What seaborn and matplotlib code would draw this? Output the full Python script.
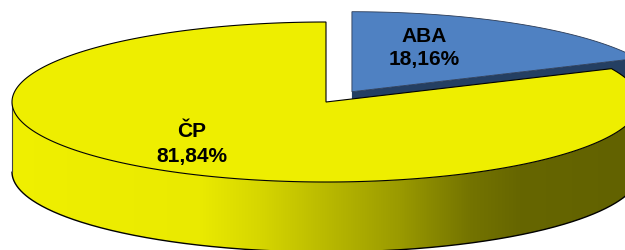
import numpy as np
import matplotlib
matplotlib.use("Agg")
import matplotlib.pyplot as plt
from matplotlib.patches import Polygon
import seaborn as sns

# ---- data ----
categories = ["ABA", "ČP"]
values = [18.16, 81.84]
value_labels = ["18,16%", "81,84%"]
explode = [48, 0]
top_colors = ["#4F81C2", "#EEEE00"]
cut_colors = ["#243F62", "#8C8C00"]

sns.set_theme(style="white")
plt.rcParams["font.family"] = ["Liberation Sans", "DejaVu Sans"]

W, H = 625, 251
fig = plt.figure(figsize=(W / 100, H / 100), dpi=100)
ax = fig.add_axes([0, 0, 1, 1])
ax.set_xlim(0, W)
ax.set_ylim(H, 0)
ax.axis("off")

cx, cy, rx, ry, depth = 326, 103, 314, 80, 70

def rim(theta, ox, oy, dz=0.0):
    t = np.radians(theta)
    return np.column_stack([ox + rx * np.cos(t), oy - ry * np.sin(t) + dz])

# slice angles: start at 12 o'clock, clockwise
total = sum(values)
angles = []
a = 90.0
for v in values:
    b = a - 360.0 * v / total
    angles.append((a, b))
    a = b

offsets = []
for (a0, a1), e in zip(angles, explode):
    mid = np.radians((a0 + a1) / 2)
    offsets.append((cx + e * np.cos(mid), cy - e * np.sin(mid) * ry / rx))

# wall gradient stops (x position -> colour)
stop_x = [0, 200, 260, 320, 400, 470, 520, 625, 700]
stop_c = np.array([[0xF0, 0xF0, 0x00], [0xEA, 0xEA, 0x00], [0xD6, 0xD6, 0x00],
                   [0xBC, 0xBC, 0x00], [0x9A, 0x9A, 0x00], [0x74, 0x74, 0x00],
                   [0x66, 0x66, 0x00], [0x62, 0x62, 0x00], [0x62, 0x62, 0x00]]) / 255.0

# ---- slice 0 (ABA), exploded, lies in the back ----
(a0, a1), (ox, oy) = angles[0], offsets[0]
apex = np.array([[ox, oy]])
p_end = rim(np.array([a1]), ox, oy)
cut = np.vstack([apex, p_end, p_end + [0, depth], apex + [0, depth]])
ax.add_patch(Polygon(cut, closed=True, facecolor=cut_colors[0], edgecolor="none", zorder=1))
arc = rim(np.linspace(a0, a1, 200), ox, oy)
ax.add_patch(Polygon(np.vstack([apex, arc]), closed=True, facecolor=top_colors[0],
                     edgecolor="#2a3a55", linewidth=0.6, zorder=2))

# ---- slice 1 (ČP) ----
(a0, a1), (ox, oy) = angles[1], offsets[1]
lo, hi = max(a1, -180.0), min(a0, 0.0)
th = np.linspace(hi, lo, 400)
top_pts = rim(th, ox, oy)
bot_pts = rim(th, ox, oy, depth)
wall = np.vstack([top_pts, bot_pts[::-1]])
wall_patch = Polygon(wall, closed=True, facecolor="none", edgecolor="none", zorder=3)
ax.add_patch(wall_patch)
xs = np.linspace(0, W + 20, 700)
grad = np.stack([np.interp(xs, stop_x, stop_c[:, k]) for k in range(3)], axis=-1)[None, :, :]
im = ax.imshow(grad, extent=[0, W + 20, H + 10, 0], aspect="auto", zorder=3,
               interpolation="bilinear")
im.set_clip_path(wall_patch)
ax.set_xlim(0, W)
ax.set_ylim(H, 0)
ax.plot(bot_pts[:, 0], bot_pts[:, 1], color="black", linewidth=1.0, zorder=4)
left = rim(np.array([-180.0]), ox, oy)[0]
ax.plot([left[0], left[0]], [left[1], left[1] + depth], color="#444444", linewidth=0.8, zorder=4)

apex = np.array([[ox, oy]])
arc = rim(np.linspace(a0, a1, 600), ox, oy)
ax.add_patch(Polygon(np.vstack([apex, arc]), closed=True, facecolor=top_colors[1],
                     edgecolor="black", linewidth=0.8, zorder=5))

# ---- labels ----
label_pos = [(424, 42, 65), (192, 137, 162)]
for name, lab, (lx, ly1, ly2) in zip(categories, value_labels, label_pos):
    ax.text(lx, ly1, name, ha="center", va="baseline", fontsize=15,
            fontweight="bold", color="black", zorder=10)
    ax.text(lx, ly2, lab, ha="center", va="baseline", fontsize=15,
            fontweight="bold", color="black", zorder=10)

fig.savefig("out.png", dpi=100)
